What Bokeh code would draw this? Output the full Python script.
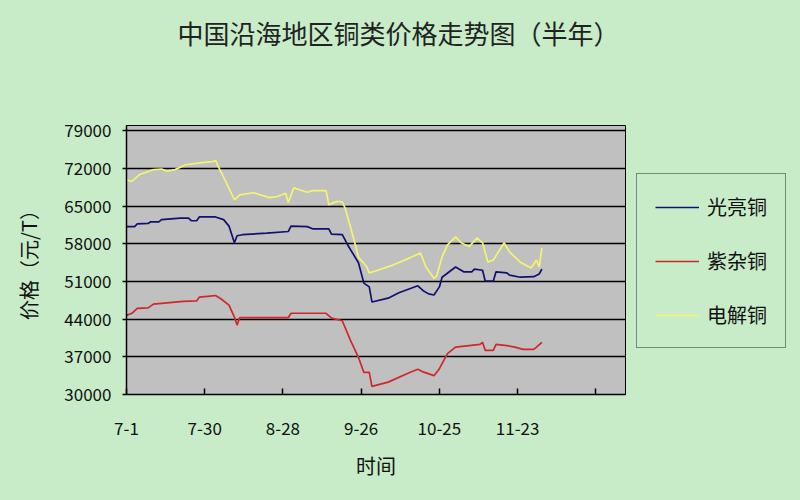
from bokeh.plotting import figure
from bokeh.models import ColumnDataSource, FixedTicker, Legend, LegendItem, Range1d, Label
from bokeh.layouts import column, row
from bokeh.embed import file_html
from bokeh.resources import INLINE

# ---- data (day offset from 7-1, price in yuan/T) ----
tick_days = [0, 29, 58, 87, 116, 145, 174]
tick_labels = ["7-1", "7-30", "8-28", "9-26", "10-25", "11-23", ""]
y_ticks = [30000, 37000, 44000, 51000, 58000, 65000, 72000, 79000]

bright_days = [0, 3, 4, 8, 9, 12, 13, 20, 23, 24, 26, 27, 33, 36, 38, 40, 41, 43, 52, 60, 61, 67, 69, 75, 76,
               80, 82, 86, 88, 90, 91, 97, 101, 108, 110, 112, 114, 116, 117, 122, 125, 128, 129, 132, 133,
               136, 137, 141, 142, 146, 151, 153, 154]
bright_vals = [61200, 61200, 61700, 61800, 62100, 62100, 62500, 62800, 62800, 62300, 62300, 63000, 63000,
               62500, 61300, 58200, 59500, 59700, 60000, 60300, 61300, 61200, 60800, 60800, 59800, 59700,
               57800, 54500, 50700, 50000, 47200, 47900, 48900, 50200, 49300, 48700, 48500, 50000, 51800,
               53700, 52800, 52800, 53300, 53100, 51100, 51100, 52800, 52600, 52200, 51800, 51900, 52400,
               53300]

scrap_days = [0, 2, 4, 8, 10, 14, 21, 26, 27, 31, 33, 35, 38, 40, 41, 42, 53, 60, 61, 74, 76, 80, 83, 86,
              88, 90, 91, 97, 105, 108, 110, 114, 116, 119, 122, 127, 131, 132, 133, 136, 137, 141, 144,
              147, 151, 152, 154]
scrap_vals = [44700, 45100, 46000, 46100, 46800, 47000, 47300, 47400, 48100, 48300, 48400, 47800, 46600,
              44400, 42900, 44300, 44300, 44300, 45100, 45100, 44200, 43700, 40100, 36900, 34100, 34100,
              31500, 32300, 34100, 34700, 34200, 33500, 34800, 37600, 38800, 39100, 39300, 39700, 38200,
              38200, 39300, 39100, 38800, 38400, 38400, 38800, 39700]

elec_days = [0, 2, 5, 10, 13, 15, 18, 22, 28, 32, 33, 34, 37, 40, 42, 47, 53, 56, 59, 60, 62, 67, 69, 74,
             75, 78, 80, 81, 83, 85, 86, 88, 89, 90, 92, 99, 105, 109, 111, 114, 115, 117, 119, 122, 124,
             127, 130, 132, 134, 136, 140, 142, 146, 150, 152, 153, 154]
elec_vals = [69900, 69600, 70900, 71800, 71900, 71500, 71800, 72700, 73100, 73300, 73500, 72400, 69400,
             66200, 67100, 67500, 66600, 66800, 67400, 65700, 68400, 67600, 67900, 67900, 65300, 65900,
             65800, 64700, 61200, 57500, 55500, 54400, 53800, 52600, 52900, 54100, 55400, 56300, 53700,
             51600, 52000, 55600, 57800, 59300, 58200, 57500, 59100, 58200, 54600, 55000, 58200, 56500,
             54600, 53500, 55000, 53700, 57200]

title_text = "中国沿海地区铜类价格走势图（半年）"
series_names = ["光亮铜", "紫杂铜", "电解铜"]
series_colors = ["#101070", "#d02828", "#f4f470"]

BG = "#c8ecc8"
FONT = "Noto Sans CJK SC"

sources = [ColumnDataSource(dict(x=d, y=v)) for d, v in
           [(bright_days, bright_vals), (scrap_days, scrap_vals), (elec_days, elec_vals)]]

# ---- header with the title ----
head = figure(width=800, height=70, output_backend="svg", toolbar_location=None,
              x_range=Range1d(0, 1), y_range=Range1d(0, 1),
              min_border=0, background_fill_color=BG, border_fill_color=BG)
head.axis.visible = False
head.grid.visible = False
head.outline_line_color = None
head.add_layout(Label(x=398, y=38, x_units="screen", y_units="screen", text=title_text,
                      text_font=FONT, text_font_size="26px", text_color="#222222",
                      text_align="center", text_baseline="middle"))

# ---- main chart ----
p = figure(width=630, height=430, output_backend="svg", toolbar_location=None,
           x_range=Range1d(0, 185), y_range=Range1d(30000, 80000),
           min_border_left=126, min_border_right=5, min_border_top=55, min_border_bottom=106,
           background_fill_color="#c0c0c0", border_fill_color=BG)
p.outline_line_color = "#000000"
p.outline_line_width = 1

for src, c in zip(sources, series_colors):
    p.line("x", "y", source=src, line_color=c, line_width=1.7)

p.xgrid.visible = False
p.ygrid.ticker = FixedTicker(ticks=y_ticks)
p.ygrid.grid_line_color = "#000000"
p.ygrid.grid_line_width = 1.5

p.xaxis.ticker = FixedTicker(ticks=tick_days)
p.xaxis.major_label_overrides = {d: l for d, l in zip(tick_days, tick_labels)}
p.xaxis.major_tick_in = 6
p.xaxis.major_tick_out = 0
p.xaxis.minor_tick_line_color = None
p.xaxis.major_label_standoff = 27
p.xaxis.axis_label = "时间"
p.xaxis.axis_label_standoff = 13
p.xaxis.axis_label_text_font_style = "normal"

p.yaxis.ticker = FixedTicker(ticks=y_ticks)
p.yaxis.major_tick_in = 0
p.yaxis.major_tick_out = 4
p.yaxis.minor_tick_line_color = None
p.yaxis.major_label_standoff = 11
p.yaxis.axis_label = "价格（元/T）"
p.yaxis.axis_label_standoff = 18
p.yaxis.axis_label_text_font_style = "normal"

for ax in (p.xaxis[0], p.yaxis[0]):
    ax.axis_line_color = "#000000"
    ax.axis_line_width = 1.5
    ax.major_tick_line_color = "#000000"
    ax.major_tick_line_width = 1.5
    ax.major_label_text_font = FONT
    ax.major_label_text_font_size = "17px"
    ax.major_label_text_color = "#111111"
    ax.axis_label_text_font = FONT
    ax.axis_label_text_font_size = "20px"
    ax.axis_label_text_color = "#111111"

# ---- legend panel (series drawn out of its view, only their legend keys show) ----
lg = figure(width=170, height=430, output_backend="svg", toolbar_location=None,
            x_range=Range1d(0, 1), y_range=Range1d(0, 1),
            min_border=0, background_fill_color=BG, border_fill_color=BG)
lg.axis.visible = False
lg.grid.visible = False
lg.outline_line_color = None
lg_renderers = [lg.line("x", "y", source=src, line_color=c, line_width=1.7)
                for src, c in zip(sources, series_colors)]

legend = Legend(items=[LegendItem(label=n, renderers=[r]) for n, r in zip(series_names, lg_renderers)],
                location=(6, 46), background_fill_color=BG, background_fill_alpha=1,
                border_line_color="#222222", border_line_width=1.2,
                label_text_font=FONT, label_text_font_size="20px", label_text_color="#111111",
                glyph_width=44, glyph_height=24, label_height=24, spacing=25, padding=18,
                label_standoff=8, margin=0)
lg.add_layout(legend)

layout = column(head, row(p, lg, styles={"background-color": BG}), styles={"background-color": BG})
open("out.html", "w").write(file_html(layout, INLINE))
